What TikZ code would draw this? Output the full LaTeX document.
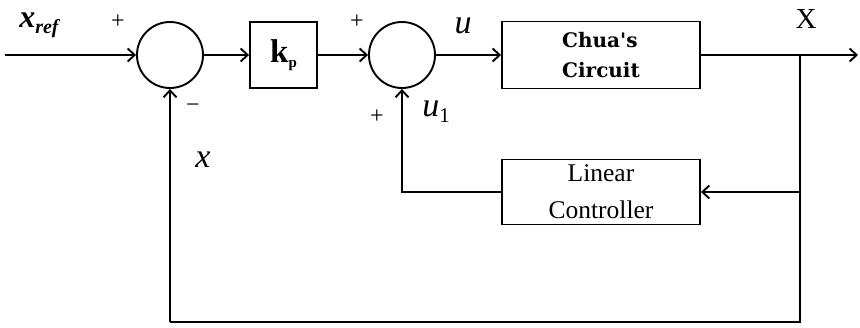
\documentclass[tikz,border=0pt]{standalone}
\usepackage{fontspec}
\setmainfont{Liberation Serif}
\newfontfamily\chuafont{DejaVu Serif}
\usetikzlibrary{arrows.meta}
\begin{document}
\begin{tikzpicture}[x=1pt,y=-1pt,
  line width=1.9pt,
  arr/.style={-{Straight Barb[length=7pt,width=13pt,line width=1.9pt]}},
  sumnode/.style={draw,circle,minimum size=66pt,inner sep=0pt},
  blk/.style={draw,rectangle,inner sep=0pt},
  lbl/.style={inner sep=0pt,font=\fontsize{34}{34}\selectfont\itshape},
  sgn/.style={inner sep=0pt,font=\fontsize{24}{24}\selectfont}]
\useasboundingbox (0,0) rectangle (860,327);
\node[sumnode] (s1) at (170,55) {};
\node[blk,minimum width=67pt,minimum height=66pt] (kp) at (283.5,55)
  {\fontsize{33}{33}\selectfont\bfseries k\raisebox{-5pt}{\fontsize{15}{15}\selectfont\bfseries p}};
\node[sumnode] (s2) at (402,55) {};
\node[blk,minimum width=198pt,minimum height=67pt,align=left,
  font=\fontsize{20}{30}\selectfont\chuafont\bfseries] (chua) at (601,55) {Chua's\\Circuit};
\node[blk,minimum width=198pt,minimum height=65pt,align=center,
  font=\fontsize{25.5}{37}\selectfont] (lin) at (601,192) {Linear\\Controller};
\coordinate (in) at (5,55);
\coordinate (out) at (858,55);
\coordinate (br) at (800,55);
\coordinate (brl) at (800,192);
\coordinate (b1) at (800,322);
\coordinate (b2) at (170,322);
\coordinate (c2) at (402,192);
\draw[arr] (in) -- (s1);
\draw[arr] (s1) -- (kp);
\draw[arr] (kp) -- (s2);
\draw[arr] (s2) -- (chua);
\draw[arr] (chua) -- (out);
\draw (br) -- (b1) -- (b2);
\draw[arr] (b2) -- (s1.south);
\draw[arr] (brl) -- (lin);
\draw[arr] (lin.west) -- (c2) -- (s2.south);
\node[lbl,font=\fontsize{32}{32}\selectfont\bfseries\itshape] (xref) at (39,25) {x\raisebox{-6pt}{\fontsize{20}{20}\selectfont\bfseries\itshape ref}};
\node[sgn] (p1) at (118,22) {+};
\node[sgn] (m1) at (193,108) {−};
\node[lbl] (xl) at (203,160) {x};
\node[sgn] (p2) at (357,22) {+};
\node[lbl] (ul) at (463,26) {u};
\node[lbl] (u1) at (436,112) {u\raisebox{-6pt}{\fontsize{21}{21}\selectfont\upshape 1}};
\node[sgn] (p3) at (377,117) {+};
\node[inner sep=0pt,font=\fontsize{29}{29}\selectfont] (X) at (806,19) {X};
\end{tikzpicture}
\end{document}
